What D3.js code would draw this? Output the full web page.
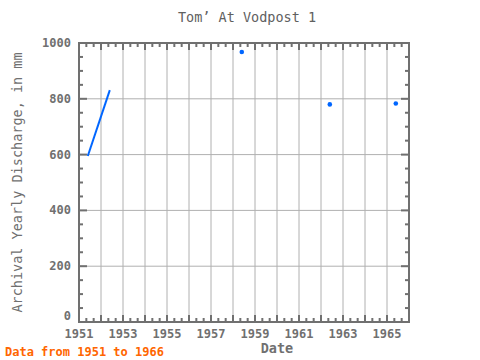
<!DOCTYPE html>
<html>
<head>
<meta charset="utf-8">
<script src="https://cdn.jsdelivr.net/npm/d3@7"></script>
<style>
  body { margin: 0; background: #fff; }
  text { font-family: "DejaVu Sans Mono", "Liberation Mono", monospace; }
</style>
</head>
<body>
<div id="chart"></div>
<script>
// values
var years = [1951.4, 1952.4, 1958.4, 1962.4, 1965.4];
var discharge = [595, 831, 968, 780, 783];
// segments: consecutive years are joined, gaps are not
var segment = [0, 0, 1, 2, 3];
var xTicks = [1951, 1953, 1955, 1957, 1959, 1961, 1963, 1965];
var yTicks = [0, 200, 400, 600, 800, 1000];

var svgWidth = 480;
var svgHeight = 360;
var margin = { top: 43, right: 71, bottom: 38, left: 79 };
var chartWidth = svgWidth - margin.left - margin.right;
var chartHeight = svgHeight - margin.top - margin.bottom;

var axisColor = "#707070";
var gridColor = "#b0b0b0";

var svg = d3.select("#chart").append("svg")
  .attr("width", svgWidth)
  .attr("height", svgHeight);

var chartGroup = svg.append("g")
  .attr("transform", `translate(${margin.left}, ${margin.top})`);

var x = d3.scaleLinear().domain([1951, 1966]).range([0, chartWidth]);
var y = d3.scaleLinear().domain([0, 1000]).range([chartHeight, 0]);

// grid
chartGroup.append("g").selectAll("line")
  .data(d3.range(1952, 1966))
  .enter().append("line")
  .attr("x1", d => x(d)).attr("x2", d => x(d))
  .attr("y1", 0).attr("y2", chartHeight)
  .attr("stroke", gridColor);
chartGroup.append("g").selectAll("line")
  .data(yTicks.slice(1, -1))
  .enter().append("line")
  .attr("x1", 0).attr("x2", chartWidth)
  .attr("y1", d => y(d)).attr("y2", d => y(d))
  .attr("stroke", gridColor);

// ticks, all pointing inward on all four sides
var majorX = d3.range(1951, 1967);
var minorX = [];
majorX.slice(0, -1).forEach(function(d) { minorX.push(d + 1 / 3, d + 2 / 3); });
var majorY = yTicks;
var minorY = d3.range(50, 1000, 50).filter(d => d % 200 !== 0);

var ticks = chartGroup.append("g").attr("stroke", axisColor).attr("stroke-width", 2);
function xTick(list, len) {
  ticks.selectAll(null).data(list).enter().append("line")
    .attr("x1", d => x(d)).attr("x2", d => x(d))
    .attr("y1", chartHeight).attr("y2", chartHeight - len);
  ticks.selectAll(null).data(list).enter().append("line")
    .attr("x1", d => x(d)).attr("x2", d => x(d))
    .attr("y1", 0).attr("y2", len);
}
function yTick(list, len) {
  ticks.selectAll(null).data(list).enter().append("line")
    .attr("y1", d => y(d)).attr("y2", d => y(d))
    .attr("x1", 0).attr("x2", len);
  ticks.selectAll(null).data(list).enter().append("line")
    .attr("y1", d => y(d)).attr("y2", d => y(d))
    .attr("x1", chartWidth).attr("x2", chartWidth - len);
}
xTick(majorX, 7);
xTick(minorX, 4);
yTick(majorY, 8);
yTick(minorY, 4);

// frame
chartGroup.append("rect")
  .attr("width", chartWidth).attr("height", chartHeight)
  .attr("fill", "none").attr("stroke", axisColor).attr("stroke-width", 2);

// tick labels
chartGroup.append("g").selectAll("text")
  .data(xTicks).enter().append("text")
  .attr("x", d => x(d)).attr("y", chartHeight + 16)
  .attr("text-anchor", "middle")
  .attr("font-size", "12px").attr("font-weight", "bold")
  .attr("fill", axisColor)
  .text(d => d);
chartGroup.append("g").selectAll("text")
  .data(yTicks).enter().append("text")
  .attr("x", -8).attr("y", d => d === 0 ? y(d) - 2 : y(d) + 4)
  .attr("text-anchor", "end")
  .attr("font-size", "12px").attr("font-weight", "bold")
  .attr("fill", axisColor)
  .text(d => d);

// data
var pts = years.map((d, i) => ({ x: d, y: discharge[i], s: segment[i] }));
var line = d3.line().x(d => x(d.x)).y(d => y(d.y));
d3.groups(pts, d => d.s).forEach(function(g) {
  var seg = g[1];
  if (seg.length > 1) {
    chartGroup.append("path").datum(seg)
      .attr("d", line)
      .attr("fill", "none")
      .attr("stroke", "#0066ff")
      .attr("stroke-width", 2);
  } else {
    chartGroup.append("circle")
      .attr("cx", x(seg[0].x)).attr("cy", y(seg[0].y))
      .attr("r", 2.3).attr("fill", "#0066ff");
  }
});

// titles
svg.append("text")
  .attr("x", 247).attr("y", 22)
  .attr("text-anchor", "middle")
  .attr("font-size", "13.5px")
  .attr("fill", "#606060")
  .text("Tom’ At Vodpost 1");

svg.append("text")
  .attr("transform", `translate(22, ${margin.top + chartHeight / 2}) rotate(-90)`)
  .attr("text-anchor", "middle")
  .attr("font-size", "13.5px")
  .attr("fill", axisColor)
  .text("Archival Yearly Discharge, in mm");

svg.append("text")
  .attr("x", margin.left + chartWidth * 0.6).attr("y", 353)
  .attr("text-anchor", "middle")
  .attr("font-size", "13.5px").attr("font-weight", "bold")
  .attr("fill", axisColor)
  .text("Date");

svg.append("text")
  .attr("x", 5).attr("y", 356)
  .attr("font-size", "12px").attr("font-weight", "bold")
  .attr("fill", "#ff6600")
  .text("Data from 1951 to 1966");
</script>
</body>
</html>
